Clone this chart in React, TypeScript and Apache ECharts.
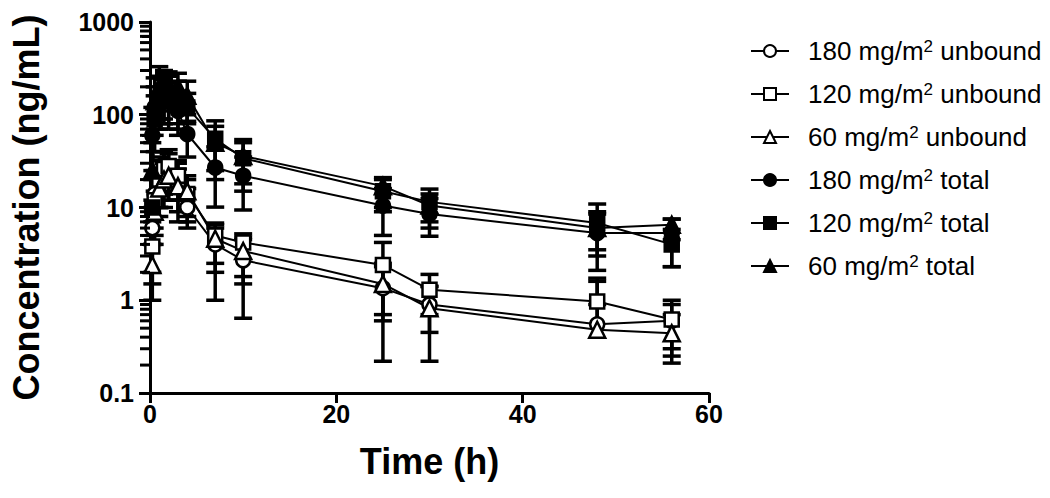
import React, { useEffect, useRef } from "react";
import * as echarts from "echarts";

const times = [0.25, 0.5, 1, 1.5, 2, 3, 4, 7, 10, 25, 30, 48, 56];

const seriesNames = [
  "180 mg/m2 unbound",
  "120 mg/m2 unbound",
  "60 mg/m2 unbound",
  "180 mg/m2 total",
  "120 mg/m2 total",
  "60 mg/m2 total",
];

const unbound180 = [6, 14, 22, 28, 25, 18, 10, 4.0, 2.7, 1.35, 0.9, 0.55, 0.6];
const unbound120 = [3.8, 12, 20, 26, 28, 22, 14, 5.0, 4.2, 2.4, 1.3, 0.97, 0.62];
const unbound60 = [2.4, 9, 16, 20, 22, 17, 15, 4.6, 3.4, 1.5, 0.82, 0.48, 0.44];
const total180 = [60, 120, 160, 150, 140, 110, 62, 27, 22, 10.5, 8.5, 5.3, 5.3];
const total120 = [10, 90, 140, 170, 160, 140, 120, 55, 34, 15, 11.5, 6.8, 4.0];
const total60 = [25, 140, 200, 220, 210, 200, 160, 50, 36, 17, 10.5, 6.0, 6.5];

const unbound180Low = [2, 6, 10, 14, 12, 7, 6, 1.0, 0.64, 0.22, 0.45, null, 0.3];
const unbound180High = [12, 25, 35, 40, 38, 30, 16, 6.0, 4.8, 2.5, 1.4, 1.73, 0.9];
const unbound120Low = [1.5, 5, 10, 14, 15, 12, 7, 2.0, 1.5, 0.6, 0.7, null, 0.21];
const unbound120High = [7, 22, 32, 40, 42, 32, 22, 6.8, 5.2, 4.2, 1.9, 1.6, 1.0];
const unbound60Low = [1.0, 4, 8, 10, 12, 9, 8, 2.5, 1.8, 0.7, 0.22, null, 0.25];
const unbound60High = [4, 15, 25, 30, 32, 26, 20, 6.5, 4.5, 2.3, 1.42, 0.9, 0.7];
const total180Low = [20, 60, 90, 80, 70, 60, 35, 10.1, 9.4, 5.0, 4.9, 2.1, 2.3];
const total180High = [120, 200, 250, 240, 220, 180, 100, 45, 35, 16, 12.5, 8.5, 7.5];
const total120Low = [4, 40, 70, 90, 80, 70, 80, 25, 15, 9, 7, 3.5, 2.3];
const total120High = [25, 160, 260, 280, 260, 230, 170, 86, 54, 21, 15.8, 10.9, 5.8];
const total60Low = [10, 70, 110, 130, 120, 110, 85, 20, 18, 10, 6, 3, 4.5];
const total60High = [50, 250, 330, 300, 290, 280, 230, 75, 50, 20, 14, 9, 7.5];

const xTicks = [0, 20, 40, 60];
const yDecades = [0.1, 1, 10, 100, 1000];
const minorMultipliers = [2, 3, 4, 5, 6, 7, 8, 9];

const FONT = "'Liberation Sans', Arial, sans-serif";

export default function App() {
  const ref = useRef<HTMLDivElement>(null);
  useEffect(() => {
    document.body.style.margin = "0";
    const chart = echarts.init(ref.current as HTMLDivElement, null, { renderer: "svg" });

    const defs = [
      { name: seriesNames[0], v: unbound180, lo: unbound180Low, hi: unbound180High, symbol: "circle", filled: false },
      { name: seriesNames[1], v: unbound120, lo: unbound120Low, hi: unbound120High, symbol: "rect", filled: false },
      { name: seriesNames[2], v: unbound60, lo: unbound60Low, hi: unbound60High, symbol: "triangle", filled: false },
      { name: seriesNames[3], v: total180, lo: total180Low, hi: total180High, symbol: "circle", filled: true },
      { name: seriesNames[4], v: total120, lo: total120Low, hi: total120High, symbol: "rect", filled: true },
      { name: seriesNames[5], v: total60, lo: total60Low, hi: total60High, symbol: "triangle", filled: true },
    ];

    const minorVals: number[] = [];
    yDecades.slice(0, -1).forEach((d) => {
      minorMultipliers.forEach((m) => {
        minorVals.push(d * m);
      });
    });

    const CAP = 9;
    const errRender = (params: any, api: any) => {
      const x = api.value(0);
      const m = api.value(1);
      const e = api.value(2);
      const p1 = api.coord([x, m]);
      const p2 = api.coord([x, e]);
      return {
        type: "group",
        children: [
          { type: "line", shape: { x1: p1[0], y1: p1[1], x2: p2[0], y2: p2[1] }, style: { stroke: "#000", lineWidth: 3.5 } },
          { type: "line", shape: { x1: p2[0] - CAP, y1: p2[1], x2: p2[0] + CAP, y2: p2[1] }, style: { stroke: "#000", lineWidth: 3.5 } },
        ],
      };
    };

    const series: any[] = [];
    defs.forEach((d) => {
      const errData: any[] = [];
      times.forEach((t, i) => {
        if (d.hi[i] != null) errData.push([t, d.v[i], d.hi[i]]);
        if (d.lo[i] != null) errData.push([t, d.v[i], d.lo[i]]);
      });
      series.push({
        type: "custom",
        name: d.name + " SD",
        data: errData,
        renderItem: errRender,
        encode: { x: 0, y: [1, 2] },
        z: 2,
        silent: true,
      });
    });
    defs.forEach((d) => {
      series.push({
        type: "line",
        name: d.name,
        data: times.map((t, i) => [t, d.v[i]]),
        symbol: d.symbol,
        symbolSize: d.symbol === "triangle" ? 16 : 14,
        showAllSymbol: true,
        lineStyle: { color: "#000", width: 2 },
        itemStyle: { color: d.filled ? "#000" : "#fff", borderColor: "#000", borderWidth: 2.5 },
        emphasis: { disabled: true },
        z: 3,
      });
    });

    const option: any = {
      animation: false,
      grid: { left: 149, right: 341, top: 22, bottom: 105 },
      legend: {
        orient: "vertical",
        left: 745,
        top: 33,
        itemWidth: 38,
        itemHeight: 15,
        itemGap: 17,
        selectedMode: false,
        data: seriesNames,
        formatter: (n: string) => "{gap|}" + n.replace("m2", "m{sup|2}"),
        textStyle: {
          fontSize: 26,
          fontFamily: FONT,
          color: "#000",
          rich: {
            gap: { width: 14 },
            sup: { fontSize: 17, verticalAlign: "top", fontFamily: FONT, color: "#000" },
          },
        },
      },
      xAxis: {
        type: "value",
        min: xTicks[0],
        max: xTicks[xTicks.length - 1],
        interval: 20,
        name: "Time (h)",
        nameLocation: "middle",
        nameGap: 50,
        nameTextStyle: { fontSize: 36, fontWeight: "bold", color: "#000", fontFamily: FONT },
        axisLine: { show: true, lineStyle: { color: "#000", width: 3 } },
        axisTick: { show: true, length: 10, lineStyle: { color: "#000", width: 3 } },
        axisLabel: { fontSize: 25, fontWeight: "bold", color: "#000", margin: 8, fontFamily: FONT },
        splitLine: { show: false },
      },
      yAxis: {
        type: "log",
        logBase: 10,
        min: yDecades[0],
        max: yDecades[yDecades.length - 1],
        name: "Concentration (ng/mL)",
        nameLocation: "middle",
        nameGap: 106,
        nameTextStyle: { fontSize: 36, fontWeight: "bold", color: "#000", fontFamily: FONT },
        axisLine: { show: true, lineStyle: { color: "#000", width: 3 } },
        axisTick: { show: true, length: 11, lineStyle: { color: "#000", width: 3 } },
        minorTick: { show: true, splitNumber: 9, length: 8, lineStyle: { color: "#000", width: 2 } },
        axisLabel: {
          fontSize: 25,
          fontWeight: "bold",
          color: "#000",
          margin: 16,
          fontFamily: FONT,
          formatter: (v: number) => String(v),
        },
        splitLine: { show: false },
      },
      series,
    };
    chart.setOption(option);

    // minor log ticks at 2..9 of each decade, positioned by the chart's own y scale
    const tickEls = minorVals.map((v) => {
      const p = chart.convertToPixel({ gridIndex: 0 }, [xTicks[0], v]) as number[];
      return {
        type: "rect",
        silent: true,
        z: 100,
        shape: { x: p[0] - 10, y: p[1] - 1.5, width: 10, height: 3 },
        style: { fill: "#000" },
      };
    });
    chart.setOption({ graphic: tickEls });

    return () => chart.dispose();
  }, []);
  return <div ref={ref} style={{ width: 1050, height: 498 }} />;
}
